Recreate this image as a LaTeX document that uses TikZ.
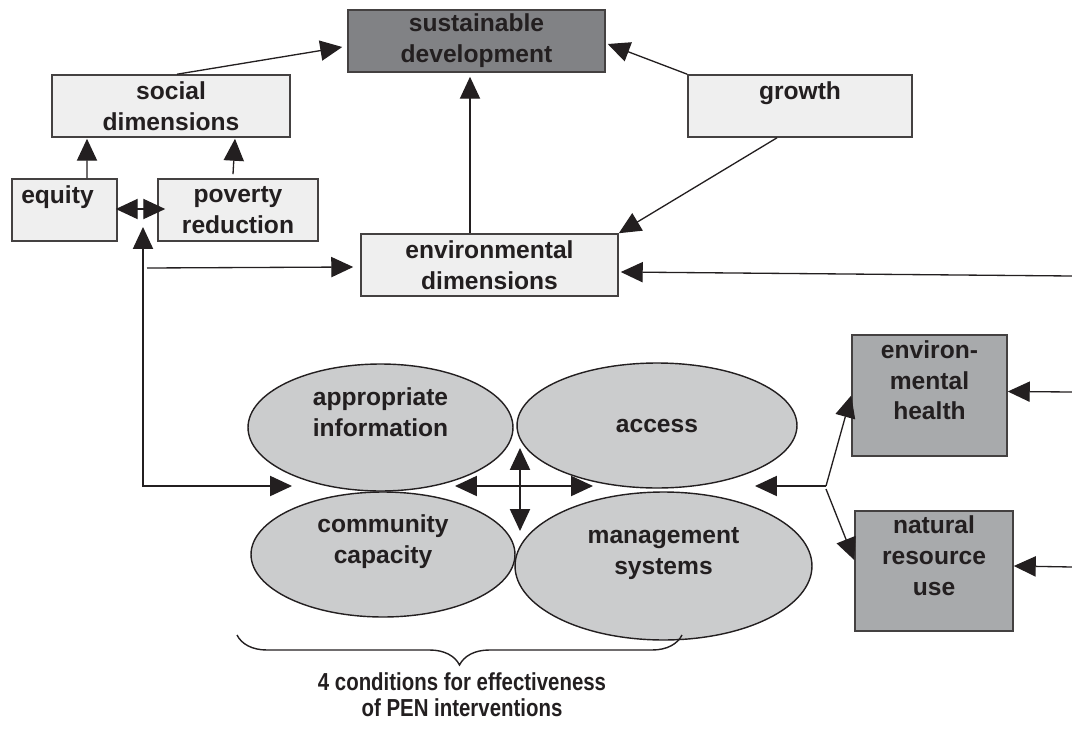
\documentclass[tikz,border=0pt]{standalone}
\usepackage{fontspec}
\setmainfont{Liberation Sans}
\usetikzlibrary{arrows.meta,shapes.geometric,calc,decorations.pathreplacing}
\definecolor{ink}{HTML}{231F20}
\definecolor{boxlight}{HTML}{EFEFEF}
\definecolor{boxdark}{HTML}{818285}
\definecolor{boxmid}{HTML}{A8AAAC}
\definecolor{ellfill}{HTML}{CBCCCD}
\tikzset{
  lbl/.style={font=\fontsize{14}{17.5}\selectfont\bfseries, text=ink, align=center},
  box/.style={lbl, rectangle, draw=ink!85, line width=0.9pt, inner sep=0pt},
  lightbox/.style={box, fill=boxlight},
  darkbox/.style={box, fill=boxdark},
  midbox/.style={box, fill=boxmid},
  oval/.style={lbl, ellipse, draw=ink, line width=0.8pt, fill=ellfill, inner sep=0pt},
  arr/.style={draw=ink, line width=0.75pt, -{Triangle[length=12.5pt,width=11.5pt]}},
  arrboth/.style={draw=ink, line width=0.75pt, {Triangle[length=12.5pt,width=11.5pt]}-{Triangle[length=12.5pt,width=11.5pt]}},
}
\begin{document}
\begin{tikzpicture}[x=0.02cm,y=-0.02cm]
\useasboundingbox (0,0) rectangle (1072,734);
% boxes
\node[darkbox, minimum width=5.14cm, minimum height=1.24cm] (sd) at (476.5,41) {sustainable\\development};
\node[lightbox, minimum width=4.76cm, minimum height=1.24cm] (soc) at (171,106) {social\\dimensions};
\node[lightbox, minimum width=4.48cm, minimum height=1.24cm] (gr) at (800,106) {growth\\\mbox{}};
\node[lightbox, minimum width=2.10cm, minimum height=1.24cm] (eq) at (64.5,210) {equity\hspace*{8pt}\\\mbox{}};
\node[lightbox, minimum width=3.20cm, minimum height=1.24cm] (pov) at (238,210) {poverty\\reduction};
\node[lightbox, minimum width=5.14cm, minimum height=1.24cm] (env) at (489.5,265) {environmental\\dimensions};
\node[midbox, minimum width=3.10cm, minimum height=2.42cm] (eh) at (929.5,395.5) {environ-\\mental\\health\\\mbox{}};
\node[midbox, minimum width=3.16cm, minimum height=2.40cm] (nr) at (934,571) {natural\\resource\\use\\\mbox{}};
% ellipses
\node[oval, minimum width=5.30cm, minimum height=2.54cm] (ai) at (380.5,427.5) {appropriate\\information\\\mbox{}};
\node[oval, minimum width=5.28cm, minimum height=2.50cm] (cc) at (383,554.5) {community\\capacity\\\mbox{}};
\node[oval, minimum width=5.60cm, minimum height=2.50cm] (ac) at (657,425.5) {access};
\node[oval, minimum width=5.94cm, minimum height=2.96cm] (ms) at (663.5,566) {management\\systems\\\mbox{}};
% coordinates
\coordinate (gapL) at (292,486);
\coordinate (corner) at (143,486);
\coordinate (eqpov) at (143,227);
\coordinate (envsrc) at (147,268);
\coordinate (crossW) at (455,486);
\coordinate (crossE) at (593,486);
\coordinate (crossN) at (520,448);
\coordinate (crossS) at (520,531);
\coordinate (fork) at (826,486);
\coordinate (forkB) at (826,489);
\coordinate (gapR) at (755,486);
\coordinate (r1) at (1072,276);
\coordinate (r2) at (1072,392);
\coordinate (r3) at (1072,567);
\coordinate (bl) at (237,635);
\coordinate (br) at (682,635);
% connectors
\draw[arr] ($(soc.north)+(6,0)$) -- ($(sd.west)+(-5,6)$);
\draw[arr] (gr.north west) -- ($(sd.east)+(2,3)$);
\draw[arr] ($(gr.south)+(-23,0)$) -- (env.north east);
\draw[arr] ($(env.north)+(-19.5,0)$) -- ($(sd.south)+(-6.5,4)$);
\draw[arr] ($(eq.north)+(22.5,0)$) -- ($(soc.south)+(-84,1)$);
\draw[arr] ($(pov.north)+(-5,-4)$) -- ($(soc.south)+(64,1)$);
\draw[arrboth] ($(eq.east)+(-2,-1)$) -- ($(pov.west)+(8,-1)$);
\draw[arrboth] (gapL) -- (corner) -- (eqpov);
\draw[arr] (envsrc) -- ($(env.west)+(-7,2)$);
\draw[arrboth] (crossW) -- (crossE);
\draw[arrboth] (crossN) -- (crossS);
\draw[arr] (fork) -- (gapR);
\draw[arr] (fork) -- (eh.west);
\draw[arr] (forkB) -- ($(nr.west)+(0,-11)$);
\draw[arr] (r1) -- ($(env.east)+(2,7)$);
\draw[arr] (r2) -- ($(eh.east)+(0,-4)$);
\draw[arr] (r3) -- ($(nr.east)+(0,-5)$);
% brace
\draw[ink, line width=0.8pt, decorate, decoration={brace, mirror, amplitude=0.6cm}] (bl) -- (br);
\node[font=\fontsize{14}{15}\selectfont\bfseries, text=ink, align=center, xscale=0.83, transform shape] (cap) at (462,695) {4 conditions for effectiveness\\of PEN interventions};
\end{tikzpicture}
\end{document}
